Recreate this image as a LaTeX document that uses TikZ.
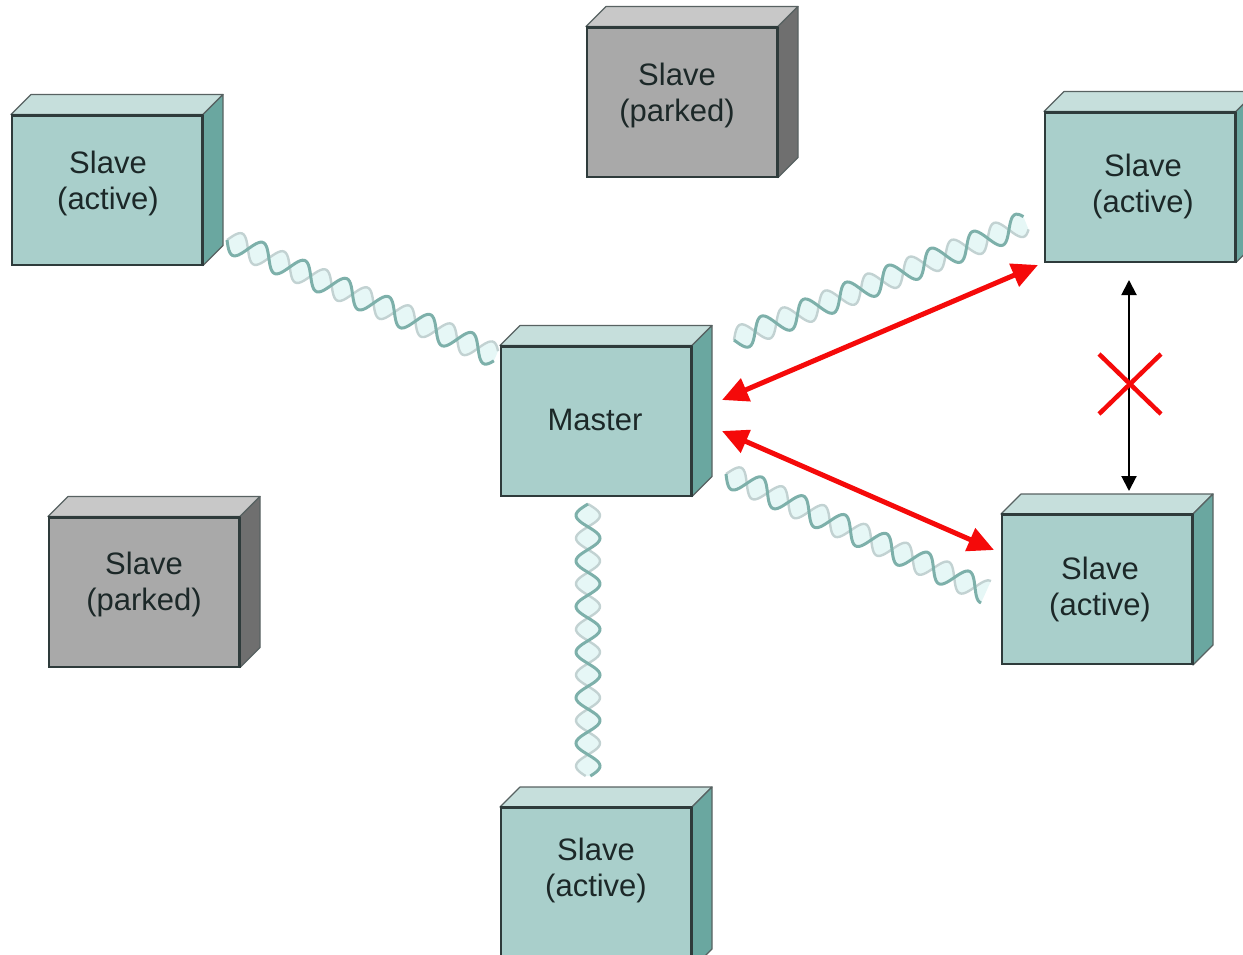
\documentclass[tikz,border=0pt]{standalone}
\usepackage{fontspec}
\setmainfont{Liberation Sans}
\usetikzlibrary{arrows.meta,calc}
\definecolor{tealfront}{HTML}{A9CFCB}
\definecolor{tealtop}{HTML}{C6DFDC}
\definecolor{tealside}{HTML}{6AA7A0}
\definecolor{grayfront}{HTML}{A9A9A9}
\definecolor{graytop}{HTML}{C8C8C8}
\definecolor{grayside}{HTML}{6F6F6F}
\definecolor{edgecol}{HTML}{2E3B3B}
\definecolor{txtcol}{HTML}{1C2828}
\definecolor{helixdark}{HTML}{7DB0AA}
\definecolor{helixlight}{HTML}{C2D2D2}
\definecolor{helixfillc}{HTML}{E6F7F6}
\definecolor{arrred}{HTML}{F50A0A}
\newcommand{\hamp}{12}
\newcommand{\hfreq}{7.9}
\newcommand{\cubefaces}[3]{%
  \filldraw[faceline, fill=#2] (#1.north west) -- ++(20,-20) -- ([shift={(20,-20)}]#1.north east) -- (#1.north east) -- cycle;
  \filldraw[faceline, fill=#3] (#1.north east) -- ++(20,-20) -- ([shift={(20,-20)}]#1.south east) -- (#1.south east) -- cycle;
  \draw[frontline] (#1.north west) -- (#1.north east) -- (#1.south east);
}
\newcommand{\helixlink}[2]{%
  \path let \p1=(#1), \p2=(#2), \n1={atan2(\y2-\y1,\x2-\x1)}, \n2={veclen(\x2-\x1,\y2-\y1)} in
    \pgfextra{\xdef\hxa{\x1}\xdef\hya{\y1}\xdef\hang{\n1}\xdef\hlen{\n2}};
  \pgfmathsetmacro\hL{\hlen}%
  \pgfmathsetmacro\hA{\hang}%
  \begin{scope}[shift={(\hxa,\hya)}, rotate=\hA]
    \fill[helixfillc] plot[variable=\t, domain=0:\hL, samples=160, smooth] (\t,{\hamp*sin(\t*\hfreq)})
      -- plot[variable=\t, domain=\hL:0, samples=160, smooth] (\t,{-\hamp*sin(\t*\hfreq)}) -- cycle;
    \draw[helixlight, line width=2.4pt] plot[variable=\t, domain=0:\hL, samples=160, smooth] (\t,{-\hamp*sin(\t*\hfreq)});
    \draw[helixdark, line width=3pt] plot[variable=\t, domain=0:\hL, samples=160, smooth] (\t,{\hamp*sin(\t*\hfreq)});
  \end{scope}}
\begin{document}
\begin{tikzpicture}[x=1pt,y=-1pt,
  cubebox/.style={draw=edgecol, line width=2pt, minimum width=190pt, minimum height=149pt, inner sep=0pt},
  activebox/.style={cubebox, fill=tealfront},
  parkedbox/.style={cubebox, fill=grayfront},
  faceline/.style={draw=edgecol!80, line width=1.2pt, line join=round},
  frontline/.style={draw=edgecol, line width=2pt, line join=round},
  lbl/.style={align=center, text=txtcol, font=\fontsize{31}{36}\selectfont, inner sep=0pt},
  redarrow/.style={draw=arrred, line width=5pt, {Triangle[length=26pt,width=24pt]}-{Triangle[length=26pt,width=24pt]}},
  blackarrow/.style={draw=black, line width=2pt, {Triangle[length=15pt,width=15pt]}-{Triangle[length=15pt,width=15pt]}},
  crossline/.style={draw=arrred, line width=4.5pt}
]
\useasboundingbox (0,0) rectangle (1243,954);
\clip (0,0) rectangle (1243,954);

% helix endpoints
\coordinate (h1a) at (227,240);
\coordinate (h1b) at (496,356);
\coordinate (h2a) at (734,340);
\coordinate (h2b) at (1026,223);
\coordinate (h3a) at (726,474);
\coordinate (h3b) at (986,592);
\coordinate (h4a) at (588,504);
\coordinate (h4b) at (588,776);

\helixlink{h1a}{h1b}
\helixlink{h2a}{h2b}
\helixlink{h3a}{h3b}
\helixlink{h4a}{h4b}

% boxes
\node[activebox] (s1) at (107,190) {};
\cubefaces{s1}{tealtop}{tealside}
\node[lbl] (s1t) at (108,183) {Slave\\(active)};

\node[parkedbox] (p1) at (682,102) {};
\cubefaces{p1}{graytop}{grayside}
\node[lbl] (p1t) at (677,95) {Slave\\(parked)};

\node[activebox] (s2) at (1140,187) {};
\cubefaces{s2}{tealtop}{tealside}
\node[lbl] (s2t) at (1143,186) {Slave\\(active)};

\node[activebox] (m) at (596,421) {};
\cubefaces{m}{tealtop}{tealside}
\node[lbl] (mt) at (595,420) {Master};

\node[parkedbox] (p2) at (144,592) {};
\cubefaces{p2}{graytop}{grayside}
\node[lbl] (p2t) at (144,584) {Slave\\(parked)};

\node[activebox] (s3) at (1097,589.5) {};
\cubefaces{s3}{tealtop}{tealside}
\node[lbl] (s3t) at (1100,589) {Slave\\(active)};

\node[activebox, minimum height=160pt] (s4) at (596,888) {};
\cubefaces{s4}{tealtop}{tealside}
\node[lbl] (s4t) at (596,870) {Slave\\(active)};

% red arrows
\coordinate (ra1) at (722,400);
\coordinate (rb1) at (1038,265);
\coordinate (ra2) at (722,431);
\coordinate (rb2) at (994,550);
\draw[redarrow] (ra1) -- (rb1);
\draw[redarrow] (ra2) -- (rb2);

% black arrow with cross
\coordinate (ba) at (1129,280);
\coordinate (bb) at (1129,491);
\draw[blackarrow] (ba) -- (bb);
\coordinate (xc) at (1130,384);
\draw[crossline] ($(xc)+(-31,-30)$) -- ($(xc)+(31,30)$);
\draw[crossline] ($(xc)+(-31,30)$) -- ($(xc)+(31,-30)$);
\end{tikzpicture}
\end{document}
